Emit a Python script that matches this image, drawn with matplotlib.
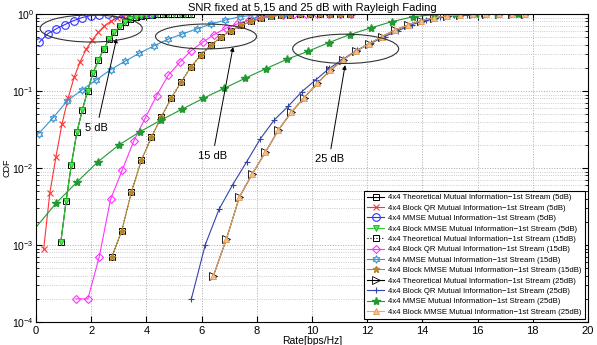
import matplotlib
matplotlib.use("Agg")
import matplotlib.pyplot as plt
from matplotlib.patches import Ellipse
from matplotlib.ticker import LogLocator, NullFormatter, MultipleLocator

plt.rcParams['font.family'] = ['Liberation Sans', 'DejaVu Sans']

# ---------------- data ----------------
x5_theo = [0.90, 1.09, 1.28, 1.48, 1.68, 1.87, 2.06, 2.26, 2.45, 2.65, 2.84, 3.04, 3.23,
           3.42, 3.62, 3.81, 4.00, 4.20, 4.40, 4.60, 4.80, 5.00, 5.20, 5.40, 5.60]
y5_theo = [1.1e-3, 3.7e-3, 0.011, 0.029, 0.057, 0.10, 0.17, 0.25, 0.35, 0.47, 0.58, 0.69, 0.79,
           0.86, 0.91, 0.95, 0.97, 0.985, 0.992, 0.996, 0.998, 0.999, 1.0, 1.0, 1.0]

x5_qr = [0.28, 0.50, 0.72, 0.94, 1.16, 1.38, 1.60, 1.82, 2.04, 2.26, 2.48, 2.70, 2.92,
         3.14, 3.36, 3.58, 3.80, 4.02]
y5_qr = [9e-4, 4.7e-3, 0.0138, 0.037, 0.08, 0.15, 0.24, 0.35, 0.46, 0.58, 0.70, 0.80, 0.88,
         0.93, 0.965, 0.985, 0.995, 1.0]

x5_mmse = [0.12, 0.43, 0.74, 1.05, 1.36, 1.67, 1.98, 2.29, 2.60, 2.91, 3.22, 3.53, 3.84, 4.15]
y5_mmse = [0.43, 0.555, 0.645, 0.73, 0.82, 0.90, 0.955, 0.98, 0.992, 0.997, 0.999, 1.0, 1.0, 1.0]

x15_theo = [2.74, 3.10, 3.46, 3.82, 4.18, 4.54, 4.90, 5.26, 5.62, 5.98, 6.34, 6.70, 7.06,
            7.42, 7.78, 8.14, 8.50, 8.86, 9.22, 9.58, 9.94, 10.30, 10.66, 11.02, 11.38]
y15_theo = [6.9e-4, 1.5e-3, 4.9e-3, 0.0127, 0.025, 0.046, 0.081, 0.131, 0.207, 0.295, 0.395,
            0.50, 0.61, 0.71, 0.80, 0.88, 0.93, 0.965, 0.985, 0.995, 1.0, 1.0, 1.0, 1.0, 1.0]

x15_qr = [1.44, 1.88, 2.29, 2.70, 3.12, 3.54, 3.95, 4.37, 4.79, 5.21, 5.62, 6.04, 6.45,
          6.87, 7.28, 7.70, 8.11, 8.53, 8.94, 9.36, 9.78, 10.19, 10.60, 11.00, 11.40]
y15_qr = [2e-4, 2e-4, 7e-4, 3.9e-3, 9.3e-3, 0.0224, 0.044, 0.087, 0.16, 0.236, 0.334, 0.43,
          0.54, 0.65, 0.74, 0.835, 0.91, 0.96, 0.985, 0.995, 1.0, 1.0, 1.0, 1.0, 1.0]

x15_mmse = [0.10, 0.62, 1.14, 1.66, 2.18, 2.70, 3.22, 3.74, 4.26, 4.78, 5.30, 5.82, 6.34,
            6.86, 7.38, 7.90, 8.42, 8.94]
y15_mmse = [0.028, 0.045, 0.075, 0.103, 0.139, 0.189, 0.243, 0.309, 0.384, 0.47, 0.55, 0.64,
            0.74, 0.835, 0.92, 0.97, 0.99, 1.0]

x25_theo = [6.43, 6.90, 7.37, 7.84, 8.31, 8.78, 9.25, 9.72, 10.19, 10.66, 11.13, 11.60, 12.07,
            12.54, 13.01, 13.48, 13.95, 14.42, 14.89, 15.36, 15.83, 16.30, 16.77, 17.24, 17.71]
y25_theo = [4e-4, 1.2e-3, 4.2e-3, 8.4e-3, 0.016, 0.031, 0.053, 0.082, 0.126, 0.185, 0.255,
            0.33, 0.41, 0.51, 0.62, 0.72, 0.82, 0.89, 0.945, 0.975, 0.99, 0.997, 1.0, 1.0, 1.0]

x25_qr = [5.63, 6.13, 6.63, 7.13, 7.63, 8.13, 8.63, 9.13, 9.63, 10.13, 10.63, 11.13, 11.63,
          12.13, 12.63, 13.13, 13.63, 14.13, 14.63, 15.13, 15.63, 16.13, 16.63, 17.13, 17.63]
y25_qr = [2e-4, 1e-3, 2.9e-3, 6.1e-3, 0.012, 0.024, 0.042, 0.063, 0.098, 0.139, 0.197, 0.26,
          0.34, 0.416, 0.51, 0.61, 0.73, 0.835, 0.906, 0.96, 0.985, 0.995, 1.0, 1.0, 1.0]

x25_mmse = [-0.03, 0.73, 1.49, 2.25, 3.01, 3.77, 4.53, 5.29, 6.05, 6.81, 7.57, 8.33, 9.09,
            9.85, 10.61, 11.37, 12.13, 12.89, 13.65, 14.41, 15.17, 15.93, 16.69, 17.45]
y25_mmse = [1.65e-3, 3.5e-3, 6.6e-3, 0.0121, 0.020, 0.0296, 0.042, 0.058, 0.080, 0.108, 0.146,
            0.195, 0.258, 0.327, 0.425, 0.54, 0.66, 0.795, 0.92, 0.98, 0.997, 1.0, 1.0, 1.0]

labels = [
    "4x4 Theoretical Mutual Information\u22121st Stream (5dB)",
    "4x4 Block QR Mutual Information\u22121st Stream (5dB)",
    "4x4 MMSE Mutual Information\u22121st Stream (5dB)",
    "4x4 Block MMSE Mutual Information\u22121st Stream (5dB)",
    "4x4 Theoretical Mutual Information\u22121st Stream (15dB)",
    "4x4 Block QR Mutual Information\u22121st Stream (15dB)",
    "4x4 MMSE Mutual Information\u22121st Stream (15dB)",
    "4x4 Block MMSE Mutual Information\u22121st Stream (15dB)",
    "4x4 Theoretical Mutual Information\u22121st Stream (25dB)",
    "4x4 Block QR Mutual Information\u22121st Stream (25dB)",
    "4x4 MMSE Mutual Information\u22121st Stream (25dB)",
    "4x4 Block MMSE Mutual Information\u22121st Stream (25dB)",
]

# ---------------- figure ----------------
fig = plt.figure(figsize=(5.97, 3.45), dpi=100)
ax = fig.add_axes([36/597, 23/345, 552/597, 308/345])

lw = 0.8
ax.plot(x5_theo, y5_theo, '-', color='k', lw=lw, marker='s', ms=5, mfc='none', mec='k', mew=0.7, label=labels[0])
ax.plot(x5_qr, y5_qr, '-', color='#ff3333', lw=lw, marker='x', ms=4, mew=0.8, label=labels[1])
ax.plot(x5_mmse, y5_mmse, '-', color='#3333ff', lw=lw, marker='o', ms=5.5, mfc='none', mew=0.8, label=labels[2])
ax.plot(x5_theo, y5_theo, '-', color='#33cc33', lw=lw, marker='v', ms=4, mfc='#44ee44', mec='#22aa22', mew=0.6, label=labels[3])

ax.plot(x15_theo, y15_theo, ':', color='k', lw=lw, marker='s', ms=5, mfc='none', mec='k', mew=0.7, label=labels[4])
ax.plot(x15_qr, y15_qr, '-', color='#ff33ff', lw=lw, marker='D', ms=4.5, mfc='none', mew=0.8, label=labels[5])
ax.plot(x15_mmse, y15_mmse, '-', color='#3a94d0', lw=lw, marker=(6, 1, 0), ms=5.5, mfc='none', mew=0.8, label=labels[6])
ax.plot(x15_theo, y15_theo, '-', color='#b3852c', lw=lw, marker='*', ms=5, mfc='#b3852c', mec='#b3852c', label=labels[7])

ax.plot(x25_theo, y25_theo, '-', color='k', lw=lw, marker='>', ms=5.5, mfc='none', mec='k', mew=0.6, label=labels[8])
ax.plot(x25_qr, y25_qr, '-', color='#3344aa', lw=lw, marker='+', ms=5, mew=0.8, label=labels[9])
ax.plot(x25_mmse, y25_mmse, '-', color='#229933', lw=lw, marker='*', ms=6, mfc='#229933', label=labels[10],
        markevery=slice(1, None))
ax.plot(x25_theo, y25_theo, '-', color='#f0aa66', lw=lw, marker='^', ms=4, mfc='#f6c08c', mec='#e09a50', mew=0.6, label=labels[11])

ax.set_yscale('log')
ax.set_xlim(0, 20)
ax.set_ylim(1e-4, 1)
ax.xaxis.set_major_locator(MultipleLocator(2))
ax.yaxis.set_major_locator(LogLocator(base=10, numticks=10))
ax.yaxis.set_minor_locator(LogLocator(base=10, subs=range(2, 10), numticks=20))
ax.yaxis.set_minor_formatter(NullFormatter())

ax.grid(True, which='major', linestyle=':', color='#aaaaaa', lw=0.7)
ax.grid(True, which='minor', axis='y', linestyle=':', color='#bbbbbb', lw=0.6)
ax.tick_params(which='both', direction='in', top=True, right=True)
ax.tick_params(axis='x', which='both', pad=3, labelsize=8)
ax.tick_params(axis='y', which='both', pad=1.5, labelsize=7.5)
ax.tick_params(which='major', length=4)
ax.tick_params(which='minor', length=2)
for s in ax.spines.values():
    s.set_linewidth(0.8)

ax.set_title("SNR fixed at 5,15 and 25 dB with Rayleigh Fading", fontsize=8, pad=2)
ax.set_xlabel("Rate[bps/Hz]", fontsize=7.5, labelpad=0)
ax.set_ylabel("CDF", fontsize=6.5)
ax.yaxis.set_label_coords(-0.0444, 0.5)

leg = ax.legend(loc='lower right', fontsize=5.6, frameon=True, fancybox=False, edgecolor='k',
                framealpha=1, borderpad=0.4, labelspacing=0.38, handlelength=2.2,
                handletextpad=0.5, borderaxespad=0.4)
leg.get_frame().set_linewidth(0.8)

# ellipses + annotations
for (cx, cy, w, h) in [(0.100, 0.953, 0.185, 0.088), (0.308, 0.927, 0.183, 0.081), (0.561, 0.887, 0.192, 0.095)]:
    ax.add_patch(Ellipse((cx, cy), w, h, transform=ax.transAxes, fill=False, edgecolor='#333333', lw=0.8, zorder=5))

ann = [("5 dB", (0.146, 0.921), (0.110, 0.630)),
       ("15 dB", (0.357, 0.893), (0.320, 0.539)),
       ("25 dB", (0.560, 0.834), (0.531, 0.528))]
for txt, head, pos in ann:
    ax.annotate(txt, xy=head, xycoords='axes fraction', xytext=pos, textcoords='axes fraction',
                ha='center', va='center', fontsize=8,
                arrowprops=dict(arrowstyle='-|>', color='k', lw=0.7, mutation_scale=6, shrinkA=2, shrinkB=0))

fig.savefig("out.png", dpi=100)
